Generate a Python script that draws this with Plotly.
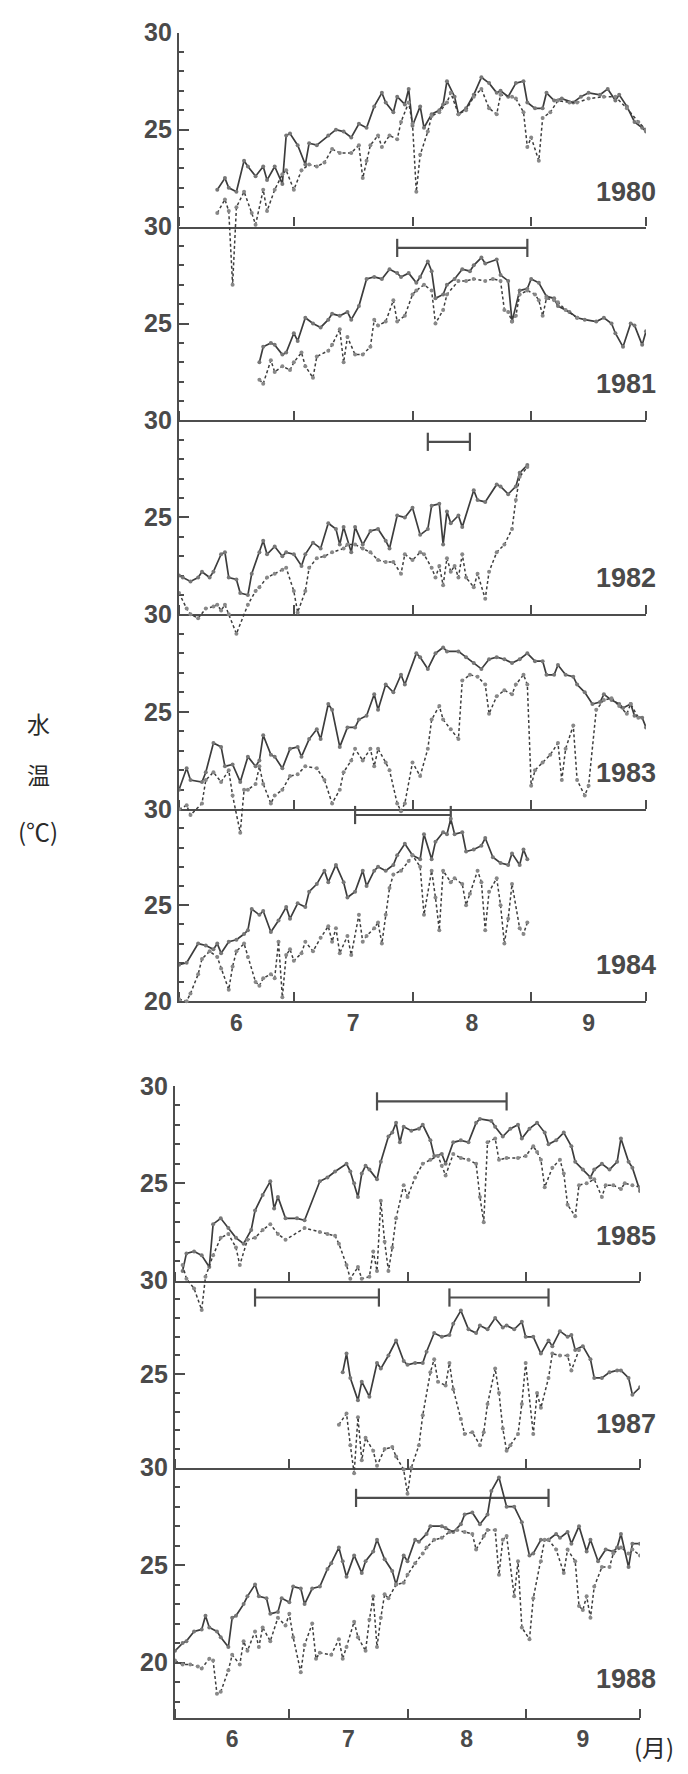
import plotly.graph_objects as go
import pandas as pd

# ---------------- data: day offset from June 1, water temperature (deg C) ----------------
# solid line series / dotted line series for each year
s1980_day = [10,12,13,15,17,18,20,22,23,25,27,28,29,31,33,34,36,39,41,43,45,47,49,51,53,54,56,57,59,60,61,63,64,66,68,69,70,72,73,75,77,79,81,83,84,86,88,90,91,93,95,96,98,100,103,105,107,110,112,114,115,117,119,121,122]
s1980_temp = [21.9,22.5,22.0,21.8,23.4,23.1,22.6,23.1,22.4,23.1,22.2,24.7,24.8,24.2,23.2,24.3,24.2,24.7,25.0,24.9,24.6,25.3,25.1,26.2,26.9,26.4,25.9,26.7,26.3,27.1,25.2,26.2,25.1,25.8,26.0,26.3,27.5,26.7,25.8,26.1,26.8,27.7,27.4,26.9,27.0,26.7,27.4,27.5,26.4,26.1,26.1,26.9,26.5,26.6,26.4,26.7,26.9,26.8,27.1,26.5,26.8,26.2,25.4,25.1,24.9]
d1980_day = [10,12,13,14,15,17,19,20,22,23,25,27,28,30,32,34,36,38,40,42,45,47,48,49,50,52,53,55,57,58,60,61,62,63,65,66,68,70,71,73,75,77,79,81,83,84,87,88,90,91,92,94,95,97,99,102,104,107,111,114,117,120,122]
d1980_temp = [20.7,21.4,20.8,17.0,21.0,21.8,20.7,20.1,21.9,20.8,21.9,22.7,22.9,21.9,22.9,23.2,23.1,23.3,24.0,23.8,23.8,24.2,22.5,23.4,24.2,24.7,24.1,24.7,24.5,25.4,26.4,25.3,21.8,23.7,24.9,25.7,25.9,26.4,26.9,25.8,26.0,26.7,27.1,26.1,25.8,26.8,26.7,26.6,25.9,24.1,24.6,23.4,25.6,25.9,26.5,26.4,26.4,26.6,26.7,26.7,26.1,25.4,25.0]

s1981_day = [21,22,24,25,27,28,30,31,33,35,37,39,40,42,44,45,47,49,51,53,55,57,58,60,62,63,65,66,67,69,70,72,74,76,77,79,80,83,84,86,87,89,91,92,94,96,98,99,102,104,106,109,111,113,114,116,118,119,121,122]
s1981_temp = [23.0,23.8,24.0,23.9,23.4,23.5,24.5,24.1,25.3,25.0,24.8,25.2,25.5,25.4,25.6,25.2,25.9,27.3,27.4,27.3,27.8,27.6,27.4,27.6,27.1,27.4,28.2,27.7,26.3,26.5,27.0,27.3,27.8,27.7,28.0,28.4,28.1,28.3,27.5,27.2,25.1,26.7,26.8,27.3,27.1,26.4,26.3,25.9,25.6,25.3,25.2,25.1,25.3,25.0,24.5,23.8,25.0,24.9,23.9,24.6]
d1981_day = [21,22,24,25,27,29,30,32,33,35,36,39,40,42,43,44,46,48,50,51,52,54,56,57,59,61,62,64,66,67,69,70,73,75,77,80,82,84,85,86,87,88,89,91,93,94,95,96,98,99,101,104]
d1981_temp = [22.1,21.9,23.1,22.5,22.8,22.6,23.0,23.5,22.8,22.2,23.3,23.6,23.9,24.7,23.0,24.3,23.4,23.4,23.8,25.2,24.9,25.1,26.2,25.1,25.4,26.5,26.7,27.0,26.7,25.0,25.7,26.5,27.2,27.2,27.3,27.2,27.3,27.2,25.7,25.6,25.1,25.4,26.5,26.7,26.5,26.2,25.4,26.3,26.2,26.1,25.7,25.3]

s1982_day = [0,1,3,5,6,8,9,11,12,13,15,16,18,19,21,22,23,25,27,28,30,32,33,35,37,39,41,42,43,45,46,48,50,52,54,55,57,59,61,63,65,66,68,69,70,71,73,74,77,78,80,83,84,86,88,89,91]
s1982_temp = [22.0,21.9,21.7,21.9,22.2,21.9,22.2,23.1,23.2,21.9,21.8,21.1,21.0,22.1,23.2,23.8,23.1,23.5,23.0,23.2,23.1,22.5,23.1,23.7,23.4,24.7,24.4,23.6,24.5,23.2,24.5,23.6,24.3,24.4,23.8,23.4,25.1,25.0,25.5,24.1,24.4,25.6,25.7,23.6,25.3,24.7,25.1,24.5,26.4,25.9,25.8,26.7,26.6,26.2,26.6,27.3,27.7]
d1982_day = [0,2,3,5,7,9,10,11,12,13,15,18,20,21,23,25,27,28,30,31,33,34,36,38,40,43,44,46,48,50,52,54,56,58,59,61,63,64,66,67,68,69,70,71,72,73,74,75,77,78,80,81,83,85,87,88,89,91]
d1982_temp = [21.1,20.3,20.0,19.8,20.3,20.4,20.5,20.2,20.5,20.0,19.0,20.5,21.2,21.4,21.9,22.1,22.3,22.4,21.2,20.1,21.2,22.4,22.9,23.0,23.2,23.4,23.6,23.6,23.4,23.2,22.8,22.7,22.7,22.1,23.1,22.8,23.2,23.1,22.4,21.9,22.5,21.5,22.9,22.2,22.5,21.9,23.1,21.9,21.4,22.1,20.8,22.2,23.2,23.6,24.4,25.9,27.1,27.6]

s1983_day = [0,2,3,6,7,9,11,12,14,16,18,20,21,22,24,25,27,29,31,32,34,36,37,39,40,42,44,46,47,49,51,52,54,56,58,59,62,63,65,67,69,70,73,75,77,79,81,83,85,87,89,91,93,95,96,98,99,101,103,104,106,108,110,111,113,115,116,118,119,121,122]
s1983_temp = [21.0,22.1,21.5,21.4,21.9,23.4,23.2,22.2,22.3,21.4,22.7,22.2,22.5,23.8,22.8,22.7,22.1,23.1,23.2,22.7,23.6,24.1,23.6,25.4,25.1,23.2,24.2,24.2,24.6,24.8,25.9,25.1,26.4,26.0,26.9,26.4,28.0,27.8,27.2,28.0,28.3,28.1,28.1,27.8,27.5,27.2,27.7,27.8,27.7,27.5,27.7,28.0,27.6,27.6,26.9,26.9,27.4,26.9,26.8,26.4,26.0,25.4,25.5,25.9,25.6,25.4,25.2,25.4,24.8,24.7,24.2]
d1983_day = [0,2,3,6,7,9,11,13,14,16,17,18,20,21,22,24,25,27,29,31,33,36,38,40,42,43,45,46,48,50,51,52,54,55,57,58,59,61,63,65,66,68,69,71,73,74,76,78,80,81,83,85,87,88,90,91,92,93,95,97,99,100,101,103,104,106,107,109,111,113,115,117,118,120]
d1983_temp = [20.0,20.2,19.7,20.3,21.5,21.9,21.4,22.0,20.7,18.8,21.0,21.0,21.3,22.2,21.3,20.3,20.7,21.0,21.7,21.8,22.2,22.1,21.5,20.3,21.0,21.9,22.5,23.1,22.5,23.1,22.2,23.1,22.4,22.0,20.3,19.9,20.3,22.4,21.7,23.1,24.6,25.3,24.6,24.1,23.6,26.6,26.9,26.8,26.4,24.9,25.8,26.1,25.9,26.4,26.9,26.4,21.2,22.0,22.4,22.8,23.4,21.5,23.1,24.3,21.5,20.7,21.2,25.1,25.6,25.7,25.3,24.9,25.4,24.7]

s1984_day = [0,2,5,7,9,10,11,13,15,17,18,19,21,22,24,26,28,29,31,33,34,36,38,39,41,43,44,46,48,49,51,52,54,56,57,59,61,63,64,66,67,69,70,71,72,74,75,77,79,80,82,84,86,87,89,90,91]
s1984_temp = [21.9,22.0,23.0,22.9,22.7,23.0,22.5,23.1,23.2,23.5,23.7,24.8,24.5,24.7,23.6,24.2,24.9,24.3,25.1,24.9,25.7,26.1,26.8,26.2,27.1,26.2,25.4,25.7,26.8,26.0,26.8,27.0,26.8,27.1,27.6,28.2,27.6,27.4,28.7,27.4,28.3,28.8,28.7,29.5,28.7,28.8,27.8,27.9,28.1,28.5,27.5,27.2,27.1,27.7,27.1,27.9,27.4]
d1984_day = [0,2,3,5,6,8,10,11,13,14,15,17,18,20,21,22,24,25,26,27,28,29,30,32,33,35,37,39,40,41,42,44,45,47,48,49,51,52,53,54,55,56,58,60,61,63,64,66,67,68,69,71,72,74,75,76,78,79,80,81,83,84,85,86,87,89,90,91]
d1984_temp = [20.1,20.0,20.4,21.4,22.2,22.6,22.3,21.7,20.6,21.8,22.6,23.0,22.3,21.0,20.8,21.2,21.4,21.2,23.1,20.2,22.4,22.7,22.1,22.5,23.1,22.6,23.3,23.9,23.1,23.8,22.5,23.4,22.4,24.5,23.1,23.4,23.8,24.1,23.0,24.5,25.9,26.6,26.8,27.3,27.6,27.0,24.5,26.8,25.4,23.7,26.8,26.2,26.4,26.1,25.0,25.6,26.8,26.2,23.7,25.7,26.4,25.0,23.0,24.3,26.1,23.8,23.5,24.1]

s1985_day = [2,3,5,7,9,10,12,14,16,18,20,21,23,25,26,27,29,32,34,38,40,42,45,46,47,48,49,50,51,53,54,56,57,58,59,60,62,64,65,67,68,70,71,73,75,77,79,80,83,84,86,88,90,91,93,95,97,98,100,102,104,105,107,109,110,112,114,116,117,119,120,122]
s1985_temp = [20.5,21.4,21.5,21.3,20.7,22.9,23.2,22.7,22.2,21.9,22.6,23.6,24.4,25.1,23.7,24.3,23.2,23.2,23.1,25.1,25.3,25.6,26.0,25.6,25.0,24.3,25.5,25.9,25.7,25.2,26.1,27.4,27.6,28.1,27.1,27.9,27.7,27.8,28.0,27.2,26.4,26.5,26.0,27.1,27.2,27.1,28.1,28.3,28.2,27.9,27.4,27.8,28.0,27.3,27.8,28.1,27.6,27.0,27.2,27.6,26.9,26.1,25.7,25.3,25.7,26.0,25.7,26.1,27.3,26.1,25.8,24.6]
d1985_day = [2,3,5,7,8,10,12,14,16,17,19,21,23,25,27,29,34,38,40,42,43,45,46,48,49,51,52,53,54,55,56,57,58,60,61,63,65,67,69,70,71,73,75,77,79,80,81,82,84,85,87,90,92,94,95,96,97,99,101,102,103,105,106,108,110,112,113,115,117,118,120,122]
d1985_temp = [20.8,20.1,19.6,18.5,20.2,21.3,22.2,22.4,21.7,20.8,22.1,22.2,22.6,22.9,22.4,22.1,22.7,22.5,22.4,22.3,21.9,20.8,20.1,20.7,20.1,20.2,21.5,20.5,24.1,22.0,20.5,21.7,23.2,24.9,24.3,25.3,26.0,26.2,26.4,25.9,25.4,26.5,26.3,26.2,26.0,24.3,23.0,27.1,27.3,26.2,26.3,26.3,26.4,26.9,26.6,26.2,24.8,25.8,26.2,25.5,23.9,23.3,24.9,25.0,25.2,24.3,24.9,24.9,24.7,25.0,24.9,24.8]

s1987_day = [44,45,46,48,49,51,53,54,56,58,60,61,63,65,66,68,70,72,73,75,77,79,80,82,84,86,87,89,91,92,94,96,98,99,101,103,104,105,107,109,110,112,114,116,117,119,120,122]
s1987_temp = [25.1,26.1,24.8,23.6,24.6,23.8,25.6,25.3,26.0,26.8,25.7,25.5,25.6,25.6,26.2,27.2,27.0,27.1,27.7,28.4,27.4,27.2,27.6,27.4,28.0,27.5,27.6,27.4,27.8,27.0,27.0,26.1,26.8,26.5,27.3,27.0,27.1,26.3,26.5,25.8,24.8,24.8,25.1,25.2,25.2,24.8,23.9,24.3]
d1987_day = [43,45,46,47,48,49,50,52,53,55,57,58,60,61,62,64,65,67,68,69,71,72,73,75,76,78,80,81,82,84,85,86,87,88,90,91,92,94,95,96,98,99,101,103,104,106]
d1987_temp = [22.3,22.9,21.2,19.7,22.7,20.4,21.6,20.9,20.1,21.0,21.1,20.6,19.9,18.6,20.0,21.2,22.8,25.1,25.8,24.6,24.4,25.6,24.2,22.6,21.8,21.9,21.2,21.9,23.4,25.3,24.0,22.1,20.9,21.2,21.8,23.4,25.6,21.8,24.0,23.2,24.8,26.1,26.0,26.0,25.2,26.3]

s1988_day = [0,2,3,5,7,8,9,11,12,14,15,16,18,19,21,22,24,25,27,28,30,31,33,34,36,38,40,41,43,44,45,47,49,50,52,53,55,57,58,60,61,63,64,66,67,70,71,73,75,76,78,80,82,83,85,87,89,91,93,94,96,98,100,101,103,104,106,108,109,111,113,115,116,117,119,120,122]
s1988_temp = [20.6,21.0,21.1,21.6,21.7,22.4,21.8,21.6,21.3,20.8,22.3,22.4,23.0,23.4,24.0,23.4,23.3,22.5,22.6,23.3,23.1,23.9,23.8,23.0,23.8,23.9,24.8,25.1,25.9,25.2,24.4,25.5,24.6,25.2,25.7,26.3,25.3,24.7,24.0,25.5,25.2,26.3,26.2,26.6,27.0,27.0,26.9,26.7,27.1,27.6,27.7,27.1,27.6,28.8,29.5,28.0,28.0,27.2,25.5,25.6,26.3,26.3,26.6,26.4,26.7,26.1,27.0,25.7,26.3,25.2,25.8,25.7,25.9,26.6,24.9,26.1,26.1]
d1988_day = [0,2,4,6,7,9,10,11,12,14,15,17,18,19,21,22,23,25,27,29,30,31,33,34,36,37,38,41,43,44,45,47,48,50,51,52,53,54,55,56,58,60,61,63,65,66,68,70,72,74,76,78,79,81,82,84,85,86,87,89,90,91,93,94,96,97,98,100,102,103,105,106,107,108,109,110,112,114,115,117,119,120,122]
d1988_temp = [20.1,19.9,19.9,19.8,19.7,20.2,20.1,18.4,18.5,19.6,20.4,19.9,21.1,20.6,21.6,20.8,21.8,21.1,22.3,21.9,22.5,21.3,19.5,20.9,22.0,20.2,20.5,20.4,21.2,20.2,20.8,22.1,21.3,20.6,22.2,23.4,20.8,22.3,23.5,23.3,24.0,24.1,24.5,25.1,25.6,25.9,26.3,26.4,26.7,26.8,26.7,26.6,25.8,26.5,26.8,26.8,24.5,26.3,26.5,23.4,25.2,21.8,21.2,23.3,25.2,26.3,26.3,25.8,24.6,25.8,25.2,22.9,22.7,23.4,22.3,23.9,24.9,24.9,25.6,25.9,25.6,25.8,25.5]

# interval bars (period markers) above panels
bar_year = [1981, 1982, 1984, 1985, 1987, 1987, 1988]
bar_start_day = [57, 65, 46, 53, 21, 72, 47.5]
bar_end_day = [91, 76, 71, 87, 53.5, 98, 98]
bar_level = [28.9, 28.9, 29.7, 29.2, 29.1, 29.1, 28.45]

years = [1980, 1981, 1982, 1983, 1984, 1985, 1987, 1988]
solid = {1980: (s1980_day, s1980_temp), 1981: (s1981_day, s1981_temp), 1982: (s1982_day, s1982_temp),
         1983: (s1983_day, s1983_temp), 1984: (s1984_day, s1984_temp), 1985: (s1985_day, s1985_temp),
         1987: (s1987_day, s1987_temp), 1988: (s1988_day, s1988_temp)}
dotted = {1980: (d1980_day, d1980_temp), 1981: (d1981_day, d1981_temp), 1982: (d1982_day, d1982_temp),
          1983: (d1983_day, d1983_temp), 1984: (d1984_day, d1984_temp), 1985: (d1985_day, d1985_temp),
          1987: (d1987_day, d1987_temp), 1988: (d1988_day, d1988_temp)}

# ---------------- layout geometry (pixels) ----------------
W, H = 688, 1774
panel_px = {1980: (19, 216), 1981: (216, 413), 1982: (413, 610), 1983: (610, 808), 1984: (808, 1003),
            1985: (1089, 1287), 1987: (1287, 1477), 1988: (1477, 1675)}
axis_bottom_px = {1988: 1731}
xdom_top = [179 / W, 646 / W]
xdom_bot = [175 / W, 640 / W]
label_y_px = {1980: 181, 1981: 376, 1982: 573, 1983: 771, 1984: 966, 1985: 1242, 1987: 1433, 1988: 1692}
bottom_panels = {1984, 1988}

LINE = "#3d3d3d"
AX = "#4d4d4d"
TXT = "#4a4a4a"
FONT = "Liberation Sans, Arial, sans-serif"
TICKFONT = dict(size=25, color=TXT, family=FONT, weight="bold")


def dates(year, days):
    base = pd.Timestamp(f"{year}-06-01")
    return [base + pd.Timedelta(days=float(d)) for d in days]


def yf(px):
    return min(1.0, max(0.0, 1 - px / H))


fig = go.Figure()
layout = dict(width=W, height=H, margin=dict(l=0, r=0, t=0, b=0),
              paper_bgcolor="white", plot_bgcolor="rgba(0,0,0,0)", showlegend=False,
              font=dict(family=FONT, color=TXT))
annotations = []

for i, yr in enumerate(years, start=1):
    p30, p20 = panel_px[yr]
    ppd = (p20 - p30) / 10.0
    bot = axis_bottom_px.get(yr, p20)
    vmin = 30 - (bot - p30) / ppd
    xdom = xdom_top if yr <= 1984 else xdom_bot
    is_bottom = yr in bottom_panels

    layout[f"xaxis{i}"] = dict(
        domain=xdom, anchor=f"y{i}", type="date",
        range=[f"{yr}-06-01", f"{yr}-10-01"],
        tickmode="linear", tick0=f"{yr}-06-01", dtick="M1",
        ticks="inside", ticklen=9, tickwidth=2, tickcolor=AX,
        showline=True, linewidth=2.2, linecolor=AX, showgrid=False, zeroline=False,
        showticklabels=is_bottom, ticklabelmode="period", tickformat="%-m",
        tickfont=dict(size=23, color=TXT, family=FONT, weight="bold"))
    major = [25, 30] + ([20] if is_bottom else [])
    minor_vals = [v for v in range(17, 30) if v not in major and v > vmin]
    layout[f"yaxis{i}"] = dict(
        domain=[yf(bot), yf(p30)], anchor=f"x{i}", range=[vmin, 30],
        tickmode="array", tickvals=major, ticktext=[str(v) for v in major],
        ticks="inside", ticklen=10, tickwidth=2, tickcolor=AX,
        minor=dict(tickmode="array", tickvals=minor_vals, ticks="inside", ticklen=5, tickwidth=1.5, tickcolor=AX),
        showline=True, linewidth=2.2, linecolor=AX, showgrid=False, zeroline=False,
        tickfont=TICKFONT)

    up = min(1.0, p30 / ppd)
    down = min(3.6, (H - bot) / ppd)
    layout[f"yaxis{8 + i}"] = dict(
        domain=[yf(bot + down * ppd), yf(p30 - up * ppd)], anchor=f"x{i}",
        range=[vmin - down, 30 + up], visible=False, showgrid=False, zeroline=False)

    fig.add_trace(go.Scatter(x=[], y=[], xaxis=f"x{i}", yaxis=f"y{i}", hoverinfo="skip"))

    sd, st = solid[yr]
    n = min(len(sd), len(st))
    fig.add_trace(go.Scatter(x=dates(yr, sd[:n]), y=st[:n], mode="lines+markers",
                             xaxis=f"x{i}", yaxis=f"y{8 + i}",
                             line=dict(color=LINE, width=1.7),
                             marker=dict(size=4, color="#777")))
    dd, dt = dotted[yr]
    n = min(len(dd), len(dt))
    fig.add_trace(go.Scatter(x=dates(yr, dd[:n]), y=dt[:n], mode="lines+markers",
                             xaxis=f"x{i}", yaxis=f"y{8 + i}",
                             line=dict(color=LINE, width=1.5, dash="3px,2.5px"),
                             marker=dict(size=4, color="#888")))

    for by, bs, be, bl in zip(bar_year, bar_start_day, bar_end_day, bar_level):
        if by == yr:
            fig.add_trace(go.Scatter(x=dates(yr, [bs, be]), y=[bl, bl], mode="lines+markers",
                                     xaxis=f"x{i}", yaxis=f"y{i}", cliponaxis=False,
                                     line=dict(color=AX, width=2.2),
                                     marker=dict(symbol="line-ns-open", size=13,
                                                 line=dict(color=AX, width=2.2))))

    annotations.append(dict(text=str(yr), xref="paper", yref="paper", x=658 / W, y=yf(label_y_px[yr]),
                            xanchor="right", yanchor="middle", showarrow=False,
                            font=dict(size=27, color=TXT, family=FONT, weight="bold")))

# y-axis title (vertical Japanese) and month unit
for txt, ypx, sz in [("水", 720, 23), ("温", 772, 23), ("(℃)", 830, 24)]:
    annotations.append(dict(text=txt, xref="paper", yref="paper", x=38 / W, y=yf(ypx),
                            xanchor="center", yanchor="middle", showarrow=False,
                            font=dict(size=sz, color="#2a2a2a", family="Noto Sans CJK JP")))
annotations.append(dict(text="(月)", xref="paper", yref="paper", x=654 / W, y=yf(1760),
                        xanchor="center", yanchor="middle", showarrow=False,
                        font=dict(size=24, color="#2a2a2a", family="Noto Sans CJK JP")))

layout["annotations"] = annotations
fig.update_layout(**layout)
fig.write_html("out.html")
